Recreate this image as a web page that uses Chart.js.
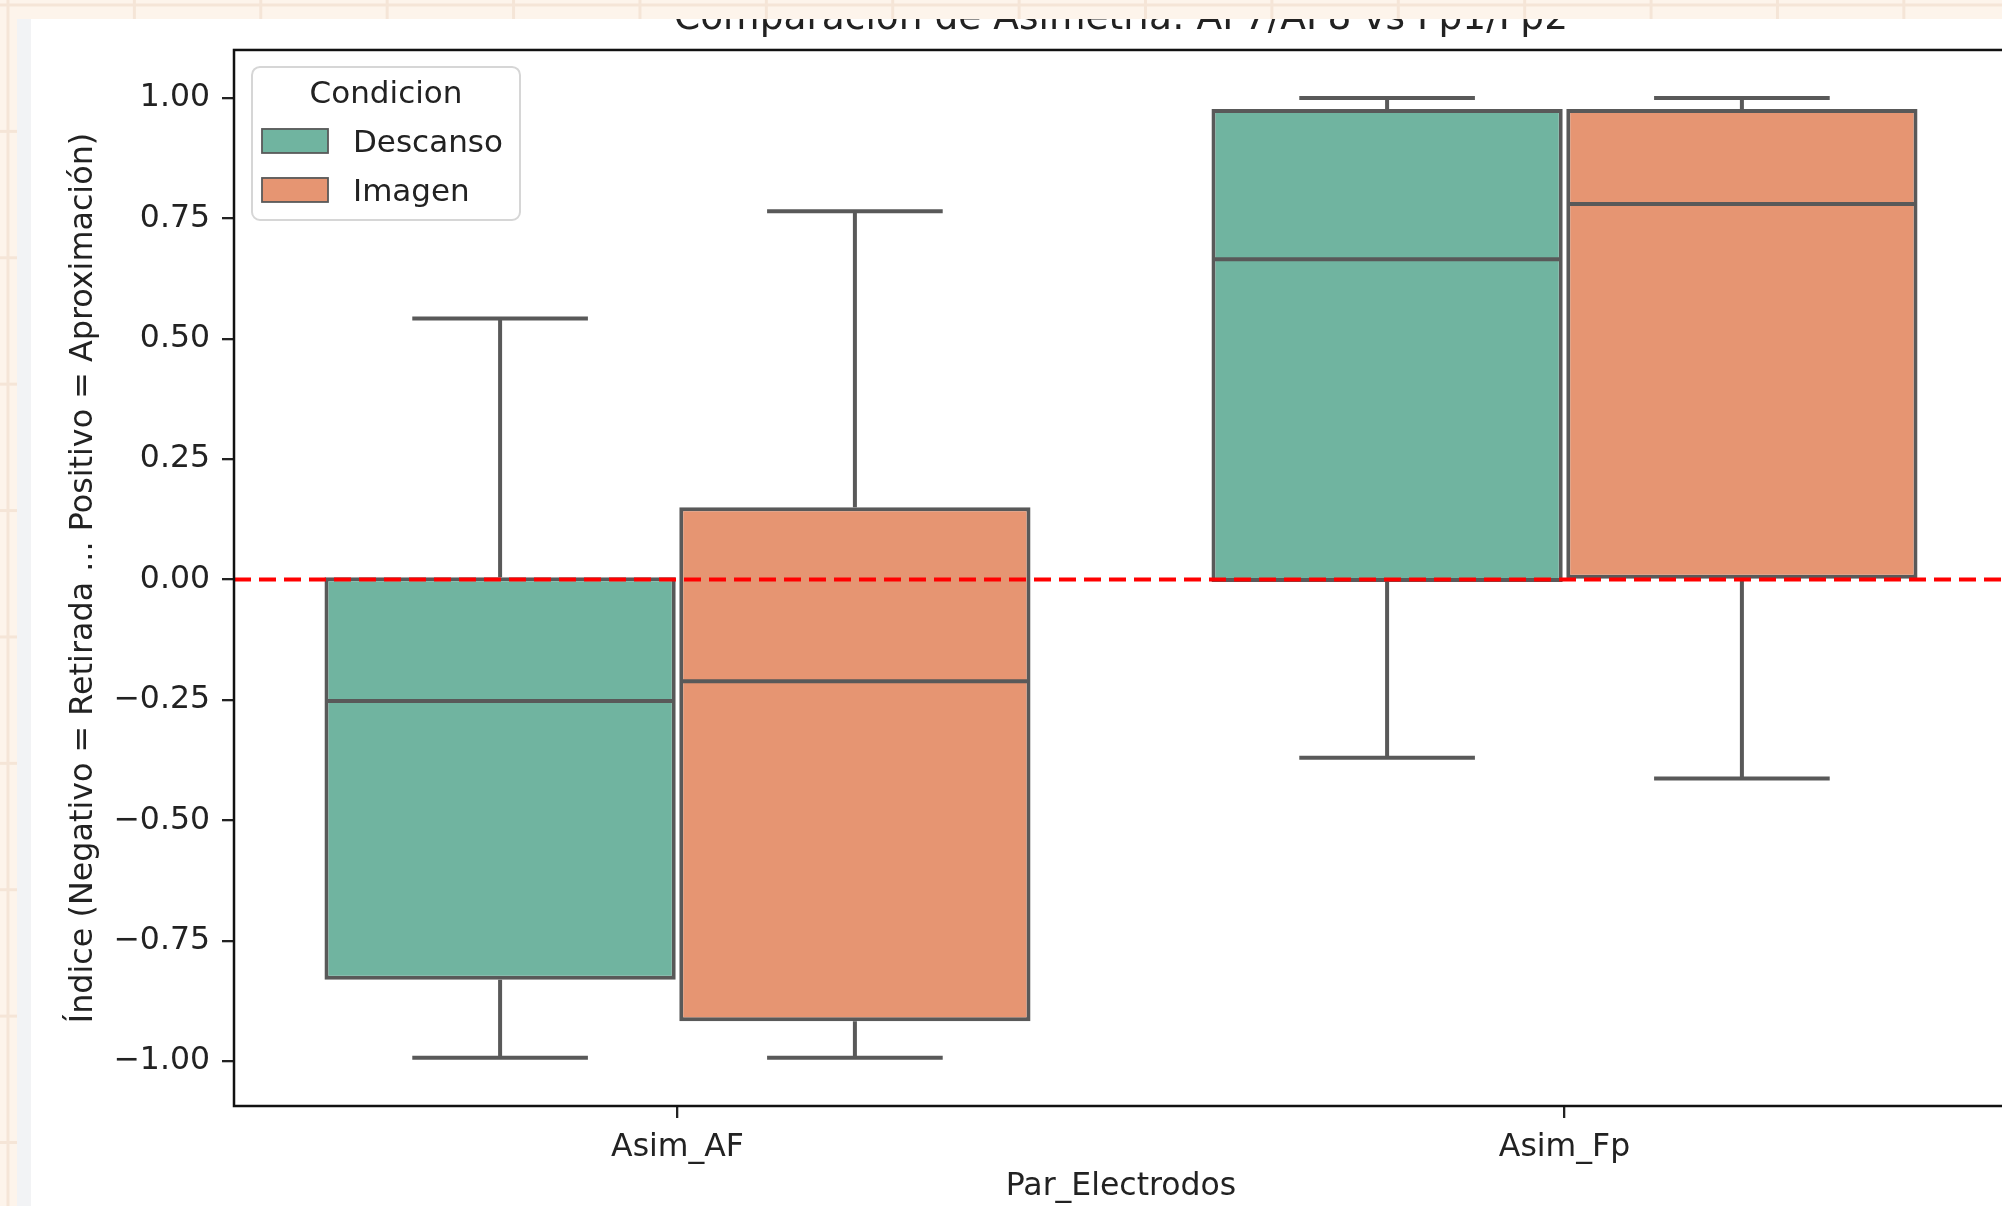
<!DOCTYPE html>
<html>
<head>
<meta charset="utf-8">
<script src="https://cdn.jsdelivr.net/npm/chart.js@4.4.1/dist/chart.umd.min.js"></script>
<style>
  html, body { margin: 0; padding: 0; overflow: hidden; background: #ffffff; width: 2002px; height: 1206px; }
  #myChart { position: absolute; left: 0; top: 0; }
  .grid {
    position: absolute; z-index: 2;
    background-color: #fdf4eb;
    background-image: linear-gradient(to right, #f5e5d7 3px, transparent 3px),
                      linear-gradient(to bottom, #f5e5d7 3px, transparent 3px);
    background-size: 126.4px 126.4px;
    background-position: 6.5px 3.5px;
  }
  #stripTop { left: 0; top: 0; width: 2002px; height: 19px; }
  #stripLeft { left: 0; top: 0; width: 17px; height: 1206px; }
  #shade { position: absolute; z-index: 2; left: 17px; top: 19px; width: 14px; height: 1187px; background: #f2f3f5; }
</style>
</head>
<body>
<canvas id="myChart" width="2008" height="1206"></canvas>
<div id="stripTop" class="grid"></div>
<div id="stripLeft" class="grid"></div>
<div id="shade"></div>
<script>
var categories = ["Asim_AF", "Asim_Fp"];
var conditions = ["Descanso", "Imagen"];

// box stats per category: lower whisker, q1, median, q3, upper whisker
var descansoLow  = [-0.993, -0.370];
var descansoQ1   = [-0.831, -0.005];
var descansoMed  = [-0.252,  0.665];
var descansoQ3   = [ 0.005,  0.977];
var descansoHigh = [ 0.542,  1.000];

var imagenLow  = [-0.993, -0.413];
var imagenQ1   = [-0.917,  0.002];
var imagenMed  = [-0.211,  0.780];
var imagenQ3   = [ 0.150,  0.977];
var imagenHigh = [ 0.765,  1.000];

var yTicks = [-1, -0.75, -0.5, -0.25, 0, 0.25, 0.5, 0.75, 1];
var yMin = -1.093;
var yMax = 1.0997;
var zeroLine = 0;

var titleText = "Comparación de Asimetría: AF7/AF8 vs Fp1/Fp2";
var yTitle = "Índice (Negativo = Retirada ... Positivo = Aproximación)";
var xTitle = "Par_Electrodos";
var legendTitle = "Condicion";

var boxColors = ["#70b4a0", "#e69572"];
var lineGray = "#595959";
var textColor = "#222222";
var fontFamily = "'DejaVu Sans', sans-serif";

function boxes(q1, q3){
  var out = [];
  for(var i = 0; i < q1.length; i++){
    out.push([q1[i], q3[i]]);
  }
  return out;
}

function fmt(v){
  var s = Math.abs(v).toFixed(2);
  return v < 0 ? "\u2212" + s : s;
}

// whiskers, caps and medians, placed from each bar of the library
var whiskers = {
  id: "whiskers",
  afterDatasetsDraw: function(chart){
    var ctx = chart.ctx;
    var ys = chart.scales.y;
    ctx.save();
    ctx.strokeStyle = lineGray;
    ctx.lineWidth = 4;
    chart.data.datasets.forEach(function(ds, di){
      var meta = chart.getDatasetMeta(di);
      meta.data.forEach(function(bar, j){
        var x = bar.x, w = bar.width;
        var pLow = ys.getPixelForValue(ds.low[j]);
        var pQ1 = ys.getPixelForValue(ds.data[j][0]);
        var pQ3 = ys.getPixelForValue(ds.data[j][1]);
        var pHigh = ys.getPixelForValue(ds.high[j]);
        var pMed = ys.getPixelForValue(ds.med[j]);
        ctx.beginPath();
        ctx.moveTo(x, pQ3); ctx.lineTo(x, pHigh);
        ctx.moveTo(x, pQ1); ctx.lineTo(x, pLow);
        ctx.moveTo(x - w / 4, pHigh); ctx.lineTo(x + w / 4, pHigh);
        ctx.moveTo(x - w / 4, pLow); ctx.lineTo(x + w / 4, pLow);
        ctx.moveTo(x - w / 2 + 2, pMed); ctx.lineTo(x + w / 2 - 2, pMed);
        ctx.stroke();
      });
    });
    // red dashed reference line
    var a = chart.chartArea;
    var pz = ys.getPixelForValue(zeroLine);
    ctx.strokeStyle = "#ff0000";
    ctx.lineWidth = 4;
    ctx.setLineDash([17, 8]);
    ctx.beginPath();
    ctx.moveTo(a.left, pz); ctx.lineTo(a.right, pz);
    ctx.stroke();
    ctx.restore();
  },
  afterDraw: function(chart){
    var ctx = chart.ctx, a = chart.chartArea;
    ctx.save();
    // axes frame
    ctx.strokeStyle = "#111111";
    ctx.lineWidth = 2.5;
    ctx.strokeRect(a.left, a.top, a.right - a.left, a.bottom - a.top);
    // legend in the upper left
    var x = a.left + 18, y = a.top + 17, w = 268, h = 153, r = 8;
    ctx.beginPath();
    ctx.moveTo(x + r, y);
    ctx.arcTo(x + w, y, x + w, y + h, r);
    ctx.arcTo(x + w, y + h, x, y + h, r);
    ctx.arcTo(x, y + h, x, y, r);
    ctx.arcTo(x, y, x + w, y, r);
    ctx.closePath();
    ctx.fillStyle = "rgba(255,255,255,0.8)";
    ctx.fill();
    ctx.strokeStyle = "#d6d6d6";
    ctx.lineWidth = 2;
    ctx.stroke();
    ctx.font = "31px " + fontFamily;
    ctx.fillStyle = textColor;
    ctx.textBaseline = "alphabetic";
    ctx.textAlign = "center";
    ctx.fillText(legendTitle, x + w / 2, y + 36);
    ctx.textAlign = "left";
    chart.data.datasets.forEach(function(ds, i){
      var py = y + 62 + i * 49;
      ctx.fillStyle = ds.backgroundColor;
      ctx.fillRect(x + 10, py, 66, 24);
      ctx.strokeStyle = lineGray;
      ctx.lineWidth = 1.8;
      ctx.strokeRect(x + 10, py, 66, 24);
      ctx.fillStyle = textColor;
      ctx.fillText(ds.label, x + 101, py + 23);
    });
    ctx.restore();
  }
};

Chart.defaults.font.family = fontFamily;
Chart.defaults.font.size = 31.5;
Chart.defaults.color = textColor;

var ctx = document.getElementById("myChart").getContext("2d");
var chart = new Chart(ctx, {
  type: "bar",
  data: {
    labels: categories,
    datasets: [{
      label: conditions[0],
      data: boxes(descansoQ1, descansoQ3),
      low: descansoLow, med: descansoMed, high: descansoHigh,
      backgroundColor: boxColors[0],
      borderColor: lineGray,
      borderWidth: 4,
      borderSkipped: false
    }, {
      label: conditions[1],
      data: boxes(imagenQ1, imagenQ3),
      low: imagenLow, med: imagenMed, high: imagenHigh,
      backgroundColor: boxColors[1],
      borderColor: lineGray,
      borderWidth: 4,
      borderSkipped: false
    }]
  },
  options: {
    responsive: false,
    animation: false,
    categoryPercentage: 0.8,
    barPercentage: 0.99,
    layout: { padding: 0 },
    plugins: {
      legend: { display: false },
      tooltip: { enabled: false },
      title: {
        display: true,
        text: titleText,
        fullSize: false,
        color: textColor,
        font: { size: 37.5, weight: "normal", lineHeight: 1.05 },
        padding: { top: 0, bottom: 10.6 }
      }
    },
    scales: {
      x: {
        offset: true,
        grid: { offset: false, drawOnChartArea: false, drawTicks: true, tickLength: 12, color: "#222222", lineWidth: 2.3 },
        border: { display: false },
        ticks: { padding: 11, color: textColor },
        title: { display: true, text: xTitle, color: textColor, padding: { top: 0, bottom: 0 }, font: { size: 31.5 } },
        afterFit: function(s){ s.height = 100; }
      },
      y: {
        min: yMin,
        max: yMax,
        grid: { drawOnChartArea: false, drawTicks: true, tickLength: 12, color: "#222222", lineWidth: 2.3 },
        border: { display: false },
        afterBuildTicks: function(s){
          s.ticks = yTicks.map(function(v){ return { value: v }; });
        },
        ticks: { padding: 12, color: textColor, callback: function(v){ return fmt(v); } },
        title: { display: true, text: yTitle, color: textColor, padding: { top: 65, bottom: 0 }, font: { size: 31.8 } },
        afterFit: function(s){ s.width = 234; }
      }
    }
  },
  plugins: [whiskers]
});
</script>
</body>
</html>
